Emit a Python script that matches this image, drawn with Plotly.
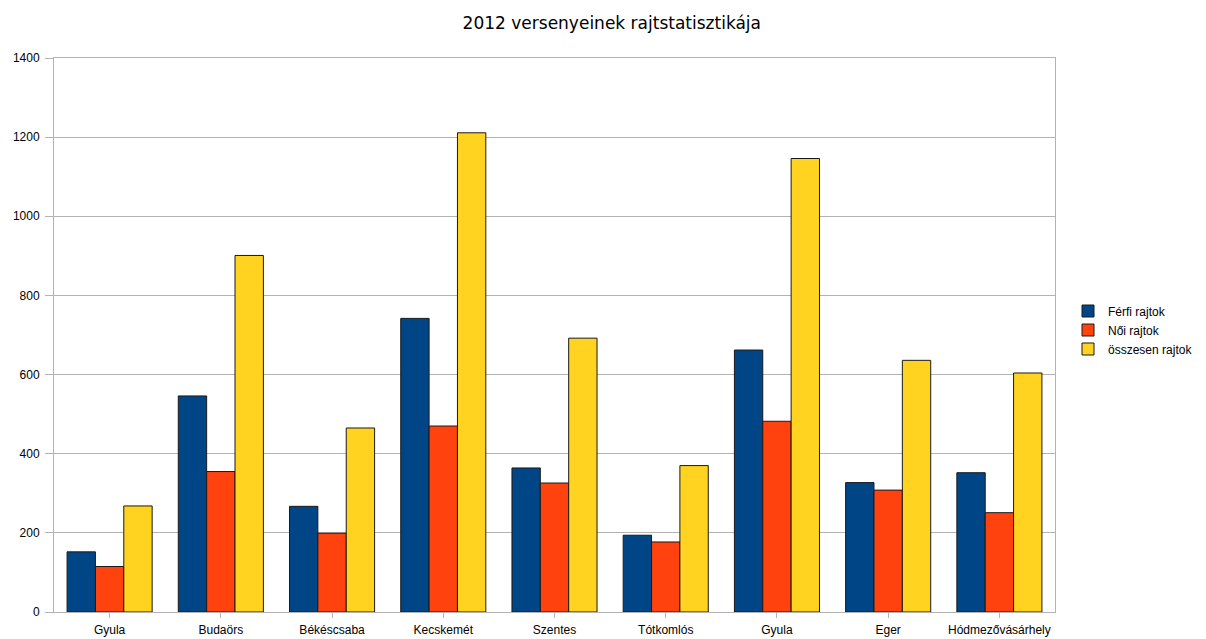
import plotly.graph_objects as go

categories = ["Gyula", "Budaörs", "Békéscsaba", "Kecskemét", "Szentes",
              "Tótkomlós", "Gyula", "Eger", "Hódmezővásárhely"]
ferfi = [152, 546, 267, 742, 364, 194, 662, 327, 352]
noi = [115, 355, 199, 470, 326, 177, 482, 308, 251]
osszesen = [268, 901, 465, 1211, 692, 370, 1146, 636, 604]
y_ticks = [0, 200, 400, 600, 800, 1000, 1200, 1400]

series = [
    ("Férfi rajtok", ferfi, "#004586"),
    ("Női rajtok", noi, "#ff420e"),
    ("összesen rajtok", osszesen, "#ffd320"),
]

xpos = list(range(len(categories)))

fig = go.Figure()
for name, vals, color in series:
    fig.add_trace(go.Bar(
        x=xpos, y=vals, name=name,
        marker=dict(color=color, line=dict(color="#1a1a1a", width=1)),
    ))

font_family = "Liberation Sans, Arial, sans-serif"
fig.update_layout(
    width=1198, height=631,
    paper_bgcolor="white", plot_bgcolor="white",
    barmode="group", bargap=0.235, bargroupgap=0,
    margin=dict(l=46, r=151, t=50, b=27, autoexpand=False),
    title=dict(text="2012 versenyeinek rajtstatisztikája", x=0.504, xanchor="center",
               y=0.976, yanchor="middle",
               font=dict(family="DejaVu Sans, sans-serif", size=17, color="#000000")),
    font=dict(family=font_family, size=12, color="#000000"),
    legend=dict(x=1.013, xanchor="left", y=0.509, yanchor="middle",
                font=dict(family=font_family, size=12, color="#000000"),
                itemwidth=30, tracegroupgap=0),
    showlegend=True,
)
fig.update_xaxes(
    range=[-0.5, len(categories) - 0.5],
    tickmode="array", tickvals=xpos, ticktext=categories,
    ticks="outside", ticklen=5, tickcolor="#b3b3b3",
    showline=True, linecolor="#b3b3b3", linewidth=1, mirror=True,
    showgrid=False, zeroline=False, automargin=False, ticklabelstandoff=2,
    tickfont=dict(family=font_family, size=12, color="#000000"),
)
fig.update_yaxes(
    range=[0, 1400], tickmode="array", tickvals=y_ticks,
    ticks="outside", ticklen=8, tickcolor="#b3b3b3",
    showline=True, linecolor="#b3b3b3", linewidth=1, mirror=True,
    showgrid=True, gridcolor="#b3b3b3", gridwidth=1, zeroline=False,
    automargin=False, ticklabelstandoff=3,
    tickfont=dict(family=font_family, size=12, color="#000000"),
)

fig.write_html("out.html")
